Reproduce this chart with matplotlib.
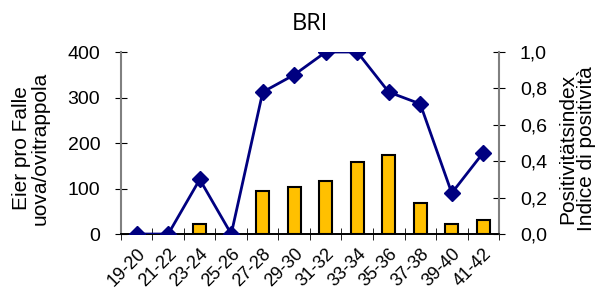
import numpy as np
import matplotlib.pyplot as plt
from matplotlib.ticker import FuncFormatter

plt.rcParams['font.family'] = ['Liberation Sans', 'DejaVu Sans']

# Daten
perioden = ["19-20", "21-22", "23-24", "25-26", "27-28", "29-30", "31-32",
            "33-34", "35-36", "37-38", "39-40", "41-42"]
eier = [0, 0, 22, 0, 95, 103, 116, 158, 174, 68, 22, 31]
index = [0.0, 0.0, 0.30, 0.0, 0.78, 0.875, 1.0, 1.0, 0.78, 0.715, 0.225, 0.447]

x = np.arange(len(perioden))

fig = plt.figure(figsize=(6.01, 2.94), dpi=100)
ax = fig.add_axes([0.2013, 0.204, 0.6290, 0.619])
ax2 = ax.twinx()

ax.bar(x, eier, width=0.42, color="#FFC000", edgecolor="black", linewidth=1.5, zorder=2)
ax2.plot(x, index, color="#000080", linewidth=2, marker="D", markersize=8, zorder=3)

ax.set_xlim(-0.5, len(perioden) - 0.5)
ax.set_ylim(0, 400)
ax2.set_ylim(0, 1.0)
ax.set_yticks([0, 100, 200, 300, 400])
ax2.set_yticks([0, 0.2, 0.4, 0.6, 0.8, 1.0])
ax2.yaxis.set_major_formatter(FuncFormatter(lambda v, p: f"{v:.1f}".replace(".", ",")))

ax.set_xticks(x)
ax.set_xticklabels(perioden, rotation=45, ha="right", rotation_mode="anchor", fontsize=13)
ax.set_xticks(np.arange(-0.5, len(perioden)), minor=True)
ax.tick_params(axis="x", which="major", length=0, pad=8)
ax.tick_params(axis="x", which="minor", direction="inout", length=8, color="black")
ax.tick_params(axis="y", direction="inout", length=8, labelsize=14, color="black", pad=11)
ax2.tick_params(axis="y", direction="inout", length=8, labelsize=14, color="black", pad=11)

for a in (ax, ax2):
    a.spines["top"].set_visible(False)
    a.spines["left"].set_color("#808080")
    a.spines["right"].set_color("#808080")
    a.spines["bottom"].set_color("black")
    a.spines["left"].set_linewidth(1.5)
    a.spines["right"].set_linewidth(1.5)
    a.spines["bottom"].set_linewidth(1.2)
ax.spines["right"].set_visible(False)
ax2.spines["left"].set_visible(False)

ax.set_ylabel("Eier pro Falle\nuova/ovitrappola", fontsize=15, linespacing=1.0)
ax2.set_ylabel("Positivitätsindex\nIndice di positività", fontsize=15, linespacing=1.0)
ax.yaxis.set_label_coords(-0.188, 0.47)
ax2.yaxis.set_label_coords(1.156, 0.47)
ax.set_title("BRI", fontsize=17, pad=16, family=["Open Sans", "DejaVu Sans"])

plt.savefig("out.png", dpi=100)
